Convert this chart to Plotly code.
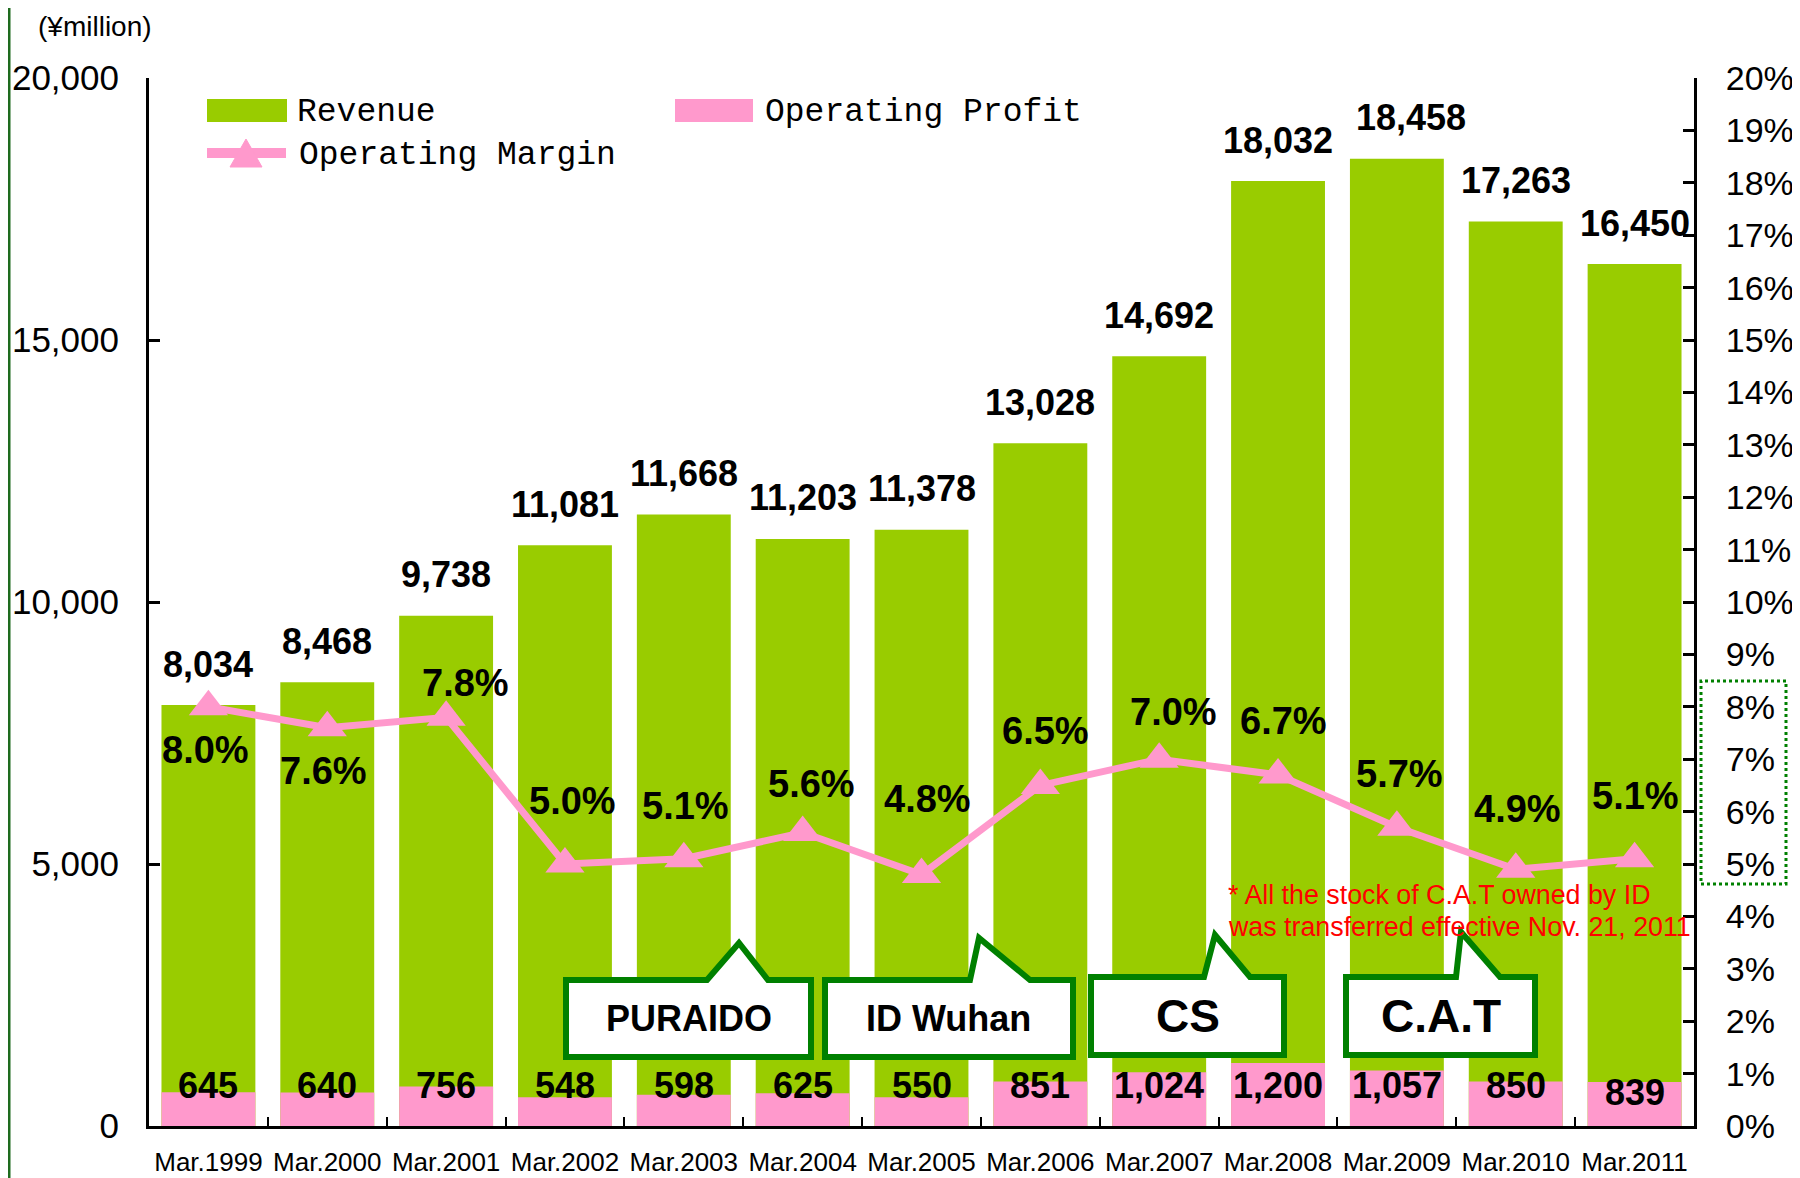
import plotly.graph_objects as go

# ---------------- data ----------------
categories = ["Mar.1999", "Mar.2000", "Mar.2001", "Mar.2002", "Mar.2003", "Mar.2004",
              "Mar.2005", "Mar.2006", "Mar.2007", "Mar.2008", "Mar.2009", "Mar.2010", "Mar.2011"]
revenue = [8034, 8468, 9738, 11081, 11668, 11203, 11378, 13028, 14692, 18032, 18458, 17263, 16450]
operating_profit = [645, 640, 756, 548, 598, 625, 550, 851, 1024, 1200, 1057, 850, 839]
operating_margin = [8.0, 7.6, 7.8, 5.0, 5.1, 5.6, 4.8, 6.5, 7.0, 6.7, 5.7, 4.9, 5.1]
left_ticks = [0, 5000, 10000, 15000, 20000]
series_names = ["Revenue", "Operating Profit", "Operating Margin"]
callout_labels = ["PURAIDO", "ID Wuhan", "CS", "C.A.T"]
note_lines = ["* All the stock of C.A.T owned by ID", "was transferred effective Nov. 21, 2011"]

# ---------------- styles / layout ----------------
GREEN = "#99CC00"
PINK = "#FF99CC"
DARK = "#008000"
# the page body adds an 8px margin; the figure is shifted back by that amount
OFF = 8
W, H = 1800 - OFF, 1178 - OFF
ML, MT = 149 - OFF, 78 - OFF
MR = W - (1694 - OFF)
MB = H - (1126 - OFF)
PW = W - ML - MR
PH = H - MT - MB


def px(p):  # reference pixel -> paper x
    return (p - OFF - ML) / PW


def py(q):  # reference pixel -> paper y
    return (H - MB - (q - OFF)) / PH


# label offsets (pixels)
revenue_xshift = [0] * 10 + [14, 0, 0]
margin_shift = [(-3, -43), (-4, -43), (19, 34), (8, 63), (2, 53), (9, 49), (6, 75),
                (5, 54), (14, 47), (5, 54), (3, 53), (2, 60), (1, 63)]
profit_shift = [41] * 12 + [34]

# callout geometry in reference pixels: left, right, top, bottom, baseL, apexX, apexY, baseR, size
callout_geom = [
    (566, 811, 980, 1057, 707, 739, 943, 768, 36),
    (825, 1073, 980, 1057, 970, 979, 938, 1030, 36),
    (1091, 1284, 977, 1055, 1204, 1215, 935, 1250, 46),
    (1346, 1535, 977, 1055, 1456, 1461, 932, 1500, 46),
]

fig = go.Figure()
fig.add_bar(x=categories, y=revenue, name=series_names[0], marker_color=GREEN,
            marker_line_width=0)
fig.add_bar(x=categories, y=operating_profit, name=series_names[1], marker_color=PINK,
            marker_line_width=0)
fig.add_scatter(x=categories, y=operating_margin, name=series_names[2], yaxis="y2",
                mode="lines+markers", line=dict(color=PINK, width=7),
                marker=dict(symbol="triangle-up", size=34, color=PINK))

ann = []
shapes = []
bold = dict(family="Liberation Sans", weight="bold", color="black")
for c, v, dx in zip(categories, revenue, revenue_xshift):
    ann.append(dict(x=c, y=v, xref="x", yref="y", text=f"{v:,}", showarrow=False,
                    yanchor="middle", xshift=dx, yshift=41, font=dict(size=36, **bold)))
for c, v, s in zip(categories, operating_profit, profit_shift):
    ann.append(dict(x=c, y=0, xref="x", yref="y", text=f"{v:,}", showarrow=False,
                    yanchor="middle", yshift=s, font=dict(size=36, **bold)))
for c, v, (dx, dy) in zip(categories, operating_margin, margin_shift):
    ann.append(dict(x=c, y=v, xref="x", yref="y2", text=f"{v:.1f}%", showarrow=False,
                    yanchor="middle", xshift=dx, yshift=dy, font=dict(size=38, **bold)))

for lab, (l, r, t, b, bl, ax, ay, br, fs) in zip(callout_labels, callout_geom):
    path = (f"M {px(l)},{py(b)} L {px(l)},{py(t)} L {px(bl)},{py(t)} L {px(ax)},{py(ay)} "
            f"L {px(br)},{py(t)} L {px(r)},{py(t)} L {px(r)},{py(b)} Z")
    shapes.append(dict(type="path", path=path, xref="paper", yref="paper",
                       fillcolor="white", line=dict(color=DARK, width=6), layer="above"))
    ann.append(dict(x=px((l + r) / 2), y=py((t + b) / 2), xref="paper", yref="paper",
                    text=lab, showarrow=False, xanchor="center", yanchor="middle",
                    font=dict(size=fs, **bold)))

# note
for line, yy in zip(note_lines, [895, 927]):
    ann.append(dict(x=px(1226), y=py(yy), xref="paper", yref="paper", text=line,
                    showarrow=False, xanchor="left", yanchor="middle",
                    font=dict(family="Liberation Sans", size=26.8, color="red")))

# unit label
ann.append(dict(x=px(95), y=py(27), xref="paper", yref="paper", text="(¥million)",
                showarrow=False, xanchor="center", yanchor="middle",
                font=dict(family="Liberation Sans", size=28, color="black")))

# legend (drawn as key swatches + labels)
LEG_FONT = dict(family="Liberation Mono", size=33, color="black")
shapes.append(dict(type="rect", xref="paper", yref="paper", x0=px(207), x1=px(287),
                   y0=py(122), y1=py(99), fillcolor=GREEN, line=dict(width=0)))
shapes.append(dict(type="rect", xref="paper", yref="paper", x0=px(675), x1=px(753),
                   y0=py(122), y1=py(99), fillcolor=PINK, line=dict(width=0)))
shapes.append(dict(type="line", xref="paper", yref="paper", x0=px(207), x1=px(286),
                   y0=py(153), y1=py(153), line=dict(color=PINK, width=10)))
shapes.append(dict(type="path", xref="paper", yref="paper", fillcolor=PINK,
                   line=dict(color=PINK, width=1),
                   path=f"M {px(230)},{py(167)} L {px(246)},{py(139)} L {px(262)},{py(167)} Z"))
for name, xx, yy in zip(series_names, [295, 763, 297], [112, 112, 155]):
    ann.append(dict(x=px(xx), y=py(yy), xref="paper", yref="paper", text=name,
                    showarrow=False, xanchor="left", yanchor="middle", font=LEG_FONT))

# dotted highlight box on right axis
shapes.append(dict(type="rect", xref="paper", yref="paper", x0=px(1701), x1=px(1786),
                   y0=py(884), y1=py(681), line=dict(color=DARK, width=3, dash="dot")))
# left green border
shapes.append(dict(type="line", xref="paper", yref="paper", x0=px(OFF + 1), x1=px(OFF + 1),
                   y0=py(0), y1=py(1178), line=dict(color="#1E6B1E", width=3)))

axis_common = dict(showline=True, linecolor="black", linewidth=3, ticks="inside",
                   tickcolor="black", showgrid=False, zeroline=False, automargin=False)

fig.update_layout(
    width=W, height=H,
    margin=dict(l=ML, r=MR, t=MT, b=MB, autoexpand=False),
    paper_bgcolor="white", plot_bgcolor="white",
    barmode="overlay", bargap=0.21,
    showlegend=False,
    font=dict(family="Liberation Sans", color="black"),
    xaxis=dict(type="category", range=[-0.5, 12.5], tickson="boundaries", ticklen=9,
               tickwidth=2, tickfont=dict(size=26), ticklabelstandoff=11, **axis_common),
    yaxis=dict(range=[0, 20000], tickvals=left_ticks, tickformat=",", ticklen=11,
               tickwidth=3, tickfont=dict(size=35), ticklabelstandoff=20, **axis_common),
    yaxis2=dict(range=[0, 20], dtick=1, ticksuffix="%", overlaying="y", side="right",
                ticklen=11, tickwidth=3, tickfont=dict(size=34), ticklabelstandoff=22,
                **axis_common),
    annotations=ann,
    shapes=shapes,
)

fig.write_html("out.html")
